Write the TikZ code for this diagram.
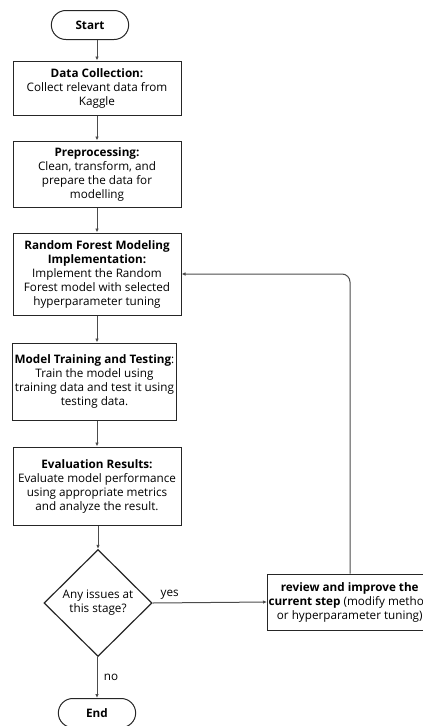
\documentclass[tikz,border=0pt]{standalone}
\usepackage{fontspec}
\setmainfont{Open Sans}
\usetikzlibrary{arrows.meta, shapes.geometric, shapes.misc, positioning}

\begin{document}
\begin{tikzpicture}[x=1pt, y=1pt,
  box/.style={draw=black!85, line width=1pt, align=center, font=\fontsize{11.7}{14}\selectfont, inner sep=1pt},
  term/.style={draw=black!85, line width=1pt, rounded rectangle, minimum width=84pt, minimum height=29pt, font=\fontsize{11.7}{14}\selectfont\bfseries},
  decision/.style={draw=black!85, line width=1.2pt, diamond, minimum width=108pt, minimum height=107pt, inner sep=0pt, align=center, font=\fontsize{11.7}{14}\selectfont},
  flow/.style={draw=black!70, line width=1pt, -{Latex[length=4pt, width=3.5pt]}}]
\useasboundingbox (0,0) rectangle (423,-726);

% Main column
\node[term] (start) at (90,-25) {Start};
\node[box, minimum width=168pt, minimum height=54pt] (dc) at (97,-88)
  {\textbf{Data Collection:}\\Collect relevant data from\\Kaggle};
\node[box, minimum width=168pt, minimum height=66pt] (pre) at (97,-174)
  {\textbf{Preprocessing:}\\Clean, transform, and\\prepare the data for\\modelling};
\node[box, minimum width=168pt, minimum height=82pt] (rf) at (97,-274)
  {\textbf{Random Forest Modeling}\\\textbf{Implementation:}\\Implement the Random\\Forest model with selected\\hyperparameter tuning};
\node[box, minimum width=164pt, minimum height=77pt] (mt) at (94.5,-381.5)
  {\textbf{Model Training and Testing}:\\Train the model using\\training data and test it using\\testing data.};
\node[box, minimum width=168pt, minimum height=78pt] (ev) at (97,-486)
  {\textbf{Evaluation Results:}\\Evaluate model performance\\using appropriate metrics\\and analyze the result.};
\node[decision] (dec) at (98,-603) {Any issues at\\this stage?};
\node[term] (end) at (97,-713) {End};

% Feedback step
\node[box, anchor=west, minimum width=162pt, minimum height=56pt] (rev) at (267,-602)
  {\textbf{review and improve the}\\\textbf{current step} (modify method\\or hyperparameter tuning)};

% Connectors
\draw[flow] (start.south -| dc.north) -- (dc.north);
\draw[flow] (dc) -- (pre);
\draw[flow] (pre) -- (rf);
\draw[flow] (rf.south) -- (rf.south |- mt.north);
\draw[flow] (mt.south -| ev.north) -- (ev.north);
\draw[flow] (ev.south -| dec.north) -- (dec.north);
\draw[flow] (dec.south -| end.north) -- node[right, font=\fontsize{11.7}{14}\selectfont, xshift=3pt] {no} (end.north);
\draw[flow] (dec.east) -- node[above, pos=0.15, font=\fontsize{11.7}{14}\selectfont] {yes} (rev.west);
\draw[flow, rounded corners=8pt] (rev.north -| 350,0) |- (rf.east);
\end{tikzpicture}
\end{document}
